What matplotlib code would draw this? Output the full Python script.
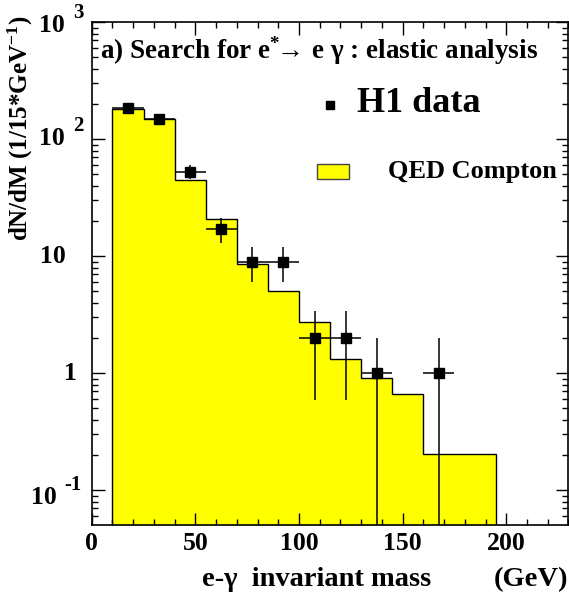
import numpy as np
import matplotlib
matplotlib.use("Agg")
import matplotlib.pyplot as plt
from matplotlib.ticker import MultipleLocator, LogLocator, FixedLocator, NullFormatter
from matplotlib.transforms import blended_transform_factory, offset_copy

plt.rcParams['font.family'] = ['Liberation Serif', 'DejaVu Serif']
plt.rcParams['font.weight'] = 'bold'
plt.rcParams['mathtext.fontset'] = 'custom'
plt.rcParams['mathtext.rm'] = 'Liberation Serif:bold'
plt.rcParams['mathtext.it'] = 'Liberation Serif:bold'
plt.rcParams['mathtext.bf'] = 'Liberation Serif:bold'

# QED Compton expectation, 15 GeV bins (last bin wider)
bin_edges = [10, 25, 40, 55, 70, 85, 100, 115, 130, 145, 160, 195]
qed_compton = [181, 149, 45, 21, 8.6, 5.0, 2.76, 1.32, 0.91, 0.665, 0.203]

# H1 data points
mass = [17.5, 32.5, 47.5, 62.5, 77.5, 92.5, 107.5, 122.5, 137.5, 167.5]
counts = [185, 148, 53, 17, 9, 9, 2, 2, 1, 1]
count_err = [13.6, 12.2, 7.3, 4.1, 3.0, 3.0, 1.41, 1.41, 1.0, 1.0]
mass_err = 7.5

# y tick labels: value, mantissa, exponent
ytick_vals = [0.1, 1, 10, 100, 1000]
ytick_base = ['10', '1', '10', '10', '10']
ytick_exp = ['-1', '', '', '2', '3']

fig = plt.figure(figsize=(5.69, 5.94), dpi=100)
ax = fig.add_axes([0.1612, 0.1162, 0.8379, 0.8463])
ax.set_yscale('log', nonpositive='clip')

base = 1e-3
ax.stairs(qed_compton, bin_edges, baseline=base, fill=True, color='#ffff00', zorder=1)
ax.stairs(qed_compton, bin_edges, baseline=base, fill=False, color='black', lw=1.0, zorder=2)

ax.errorbar(mass, counts, yerr=count_err, xerr=mass_err, fmt='s', color='black',
            ms=7.5, elinewidth=1.1, capsize=0, zorder=3)

ax.set_xlim(0, 230)
ax.set_ylim(0.0505, 1000)

ax.xaxis.set_major_locator(MultipleLocator(50))
ax.xaxis.set_minor_locator(MultipleLocator(10))
ax.yaxis.set_major_locator(FixedLocator(ytick_vals))
ax.yaxis.set_minor_locator(LogLocator(base=10, subs=np.arange(2, 10)))
ax.yaxis.set_minor_formatter(NullFormatter())
ax.yaxis.set_major_formatter(NullFormatter())
ax.tick_params(which='both', direction='in', top=True, right=True, width=1.0)
ax.tick_params(which='major', length=9, labelsize=18.5)
ax.tick_params(which='minor', length=4.5)
ax.tick_params(axis='x', pad=5)
for s in ax.spines.values():
    s.set_linewidth(1.2)

# y tick labels drawn as mantissa + raised exponent
ytrans = blended_transform_factory(ax.transAxes, ax.transData)
base_dx = [-35, -15, -26, -27, -27]
base_dy = [-7, 0, 0, 1, -3]
for val, b, e, dx, dy in zip(ytick_vals, ytick_base, ytick_exp, base_dx, base_dy):
    ax.text(0, val, b, fontsize=18.5, ha='right', va='center',
            transform=offset_copy(ytrans, fig=fig, x=dx, y=dy, units='dots'))
    if e:
        ax.text(0, val, e, fontsize=15, ha='left', va='center',
                transform=offset_copy(ytrans, fig=fig, x=dx + 8, y=dy + 12, units='dots'))

ax.text(0.0174, 0.927, r'a) Search for e$^{*}\!\!\rightarrow\!$ e γ : elastic analysis',
        transform=ax.transAxes, fontsize=19.5, va='baseline', ha='left')

# legend
ax.plot([0.4998], [0.8355], 's', color='black', ms=6, transform=ax.transAxes, clip_on=False)
ax.text(0.556, 0.8375, 'H1 data', transform=ax.transAxes, fontsize=26, va='center', ha='left')
ax.add_patch(plt.Rectangle((0.4727, 0.6883), 0.0671, 0.0298, transform=ax.transAxes,
                           facecolor='#ffff00', edgecolor='#444444', lw=1.0))
ax.text(0.6214, 0.704, 'QED Compton', transform=ax.transAxes, fontsize=19, va='center', ha='left')

fig.text(20 / 569, 1 - 16 / 594, r'dN/dM (1/15*GeV$^{-1}$)', rotation=90,
         ha='center', va='top', fontsize=18)
fig.text(202 / 569, 1 - 580 / 594, 'e-γ  invariant mass', ha='left', va='center', fontsize=20.5)
fig.text(568 / 569, 1 - 580 / 594, '(GeV)', ha='right', va='center', fontsize=20.5)

fig.savefig('out.png', dpi=100)
